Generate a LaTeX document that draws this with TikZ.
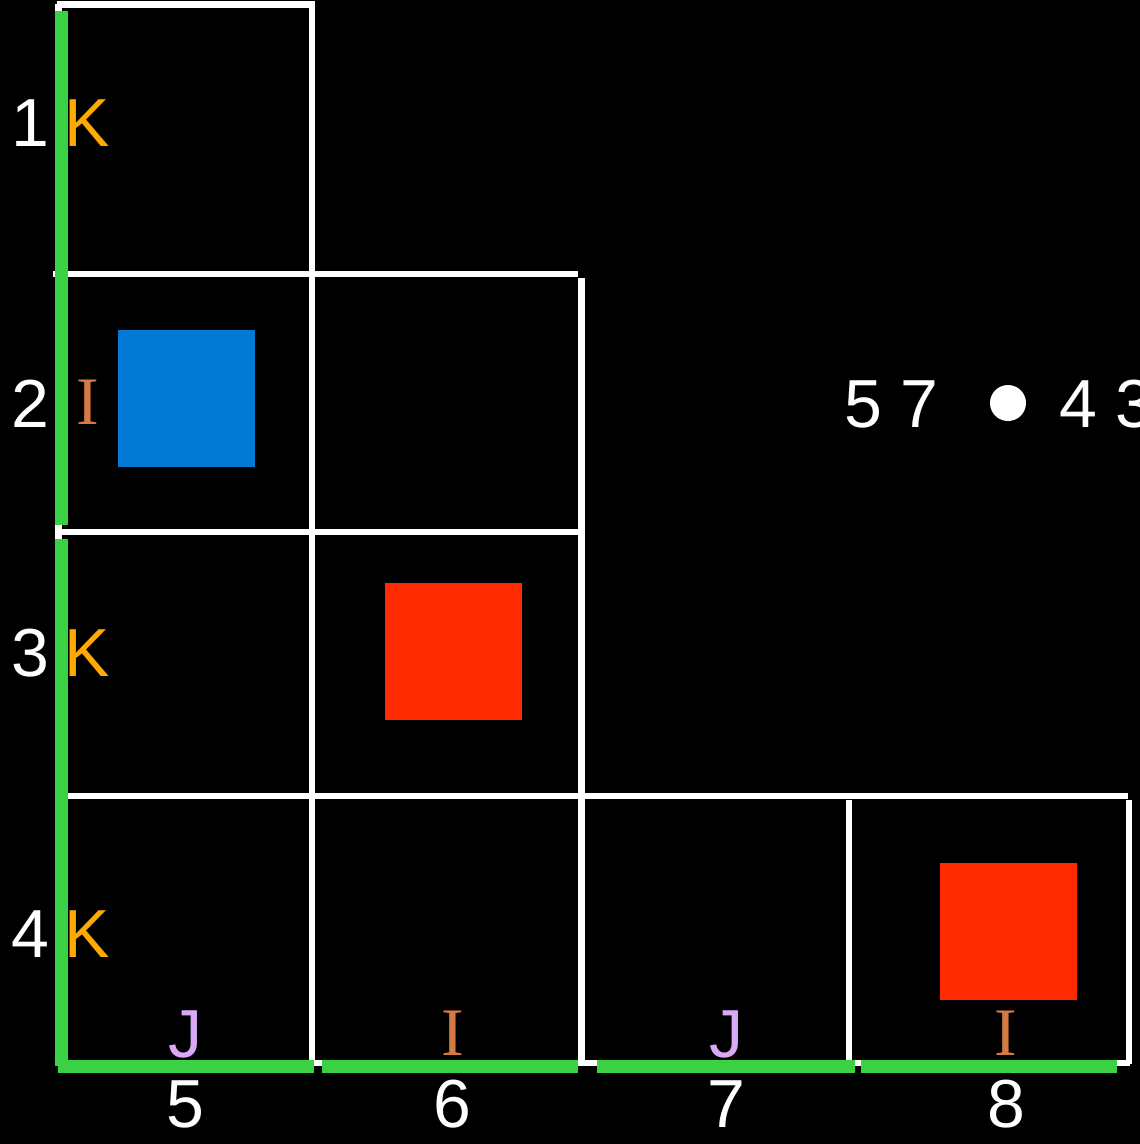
\documentclass[tikz,border=0pt]{standalone}
\usepackage{fontspec}
\setmainfont{Liberation Sans}
\newfontfamily\serifI{Liberation Serif}
\definecolor{gridgreen}{RGB}{58,209,68}
\definecolor{kor}{RGB}{255,170,0}
\definecolor{ibrown}{RGB}{212,122,66}
\definecolor{jlav}{RGB}{216,170,245}
\definecolor{sqblue}{RGB}{0,122,212}
\definecolor{sqred}{RGB}{255,42,0}
\begin{document}
\begin{tikzpicture}[x=1pt,y=-1pt,
  wline/.style={draw=white,line width=6.5pt},
  gline/.style={draw=gridgreen,line width=13pt},
  txt/.style={font=\fontsize{68}{80}\selectfont,inner sep=0pt},
  numlbl/.style={txt,text=white},
  klbl/.style={txt,text=kor},
  ilbl/.style={txt,text=ibrown,font=\serifI\fontsize{68}{80}\selectfont},
  jlbl/.style={txt,text=jlav},
  sq/.style={rectangle,inner sep=0pt,minimum width=137pt,minimum height=137pt,draw=none}]
\useasboundingbox (0,0) rectangle (1140,1144);
\fill[black] (0,0) rectangle (1140,1144);
% white grid
\coordinate (t1) at (57,4.5);   \coordinate (t2) at (315,4.5);
\coordinate (v1a) at (312,1.5); \coordinate (v1b) at (312,1063);
\coordinate (h2a) at (53,274);  \coordinate (h2b) at (578,274);
\coordinate (v2a) at (581.5,278); \coordinate (v2b) at (581.5,1064);
\coordinate (h3a) at (55,532);  \coordinate (h3b) at (584,532);
\coordinate (h4a) at (60,796);  \coordinate (h4b) at (1128,796);
\coordinate (v3a) at (849,800); \coordinate (v3b) at (849,1063);
\coordinate (v4a) at (1129,800); \coordinate (v4b) at (1129,1064);
\coordinate (h5a) at (58,1063); \coordinate (h5b) at (1130,1063);
\coordinate (v0a) at (58.5,4); \coordinate (v0b) at (58.5,1063);
\draw[wline] (t1) -- (t2);
\draw[wline] (v0a) -- (v0b);
\draw[wline] (v1a) -- (v1b);
\draw[wline] (h2a) -- (h2b);
\draw[wline] (v2a) -- (v2b);
\draw[wline] (h3a) -- (h3b);
\draw[wline] (h4a) -- (h4b);
\draw[wline] (v3a) -- (v3b);
\draw[wline] (v4a) -- (v4b);
\draw[wline] (h5a) -- (h5b);
% green edges
\coordinate (g1a) at (61.5,11);  \coordinate (g1b) at (61.5,525);
\coordinate (g2a) at (61.5,539); \coordinate (g2b) at (61.5,1066);
\coordinate (b1a) at (58,1066);  \coordinate (b1b) at (314,1066);
\coordinate (b2a) at (322,1066); \coordinate (b2b) at (578,1066);
\coordinate (b3a) at (597,1066); \coordinate (b3b) at (855,1066);
\coordinate (b4a) at (861,1066); \coordinate (b4b) at (1117,1066);
\draw[gline] (g1a) -- (g1b);
\draw[gline] (g2a) -- (g2b);
\draw[gline] (b1a) -- (b1b);
\draw[gline] (b2a) -- (b2b);
\draw[gline] (b3a) -- (b3b);
\draw[gline] (b4a) -- (b4b);
% squares
\node[sq,fill=sqblue] (blue) at (186.5,398.5) {};
\node[sq,fill=sqred] (red1) at (453.5,651.5) {};
\node[sq,fill=sqred] (red2) at (1008.5,931.5) {};
% row labels
\node[numlbl,anchor=base east] (r1) at (50,146) {1};
\node[klbl,anchor=base west] (k1) at (64,146) {K};
\node[numlbl,anchor=base east] (r2) at (50,427) {2};
\node[ilbl,anchor=base west] (i2) at (76,424) {I};
\node[numlbl,anchor=base east] (r3) at (50,676) {3};
\node[klbl,anchor=base west] (k3) at (64,676) {K};
\node[numlbl,anchor=base east] (r4) at (50,957) {4};
\node[klbl,anchor=base west] (k4) at (64,957) {K};
% column labels
\node[jlbl,anchor=base] (j5) at (185,1057) {J};
\node[ilbl,anchor=base] (i6) at (453,1055) {I};
\node[jlbl,anchor=base] (j7) at (726,1057) {J};
\node[ilbl,anchor=base] (i8) at (1006,1055) {I};
\node[numlbl,anchor=base] (c5) at (185,1127) {5};
\node[numlbl,anchor=base] (c6) at (452,1127) {6};
\node[numlbl,anchor=base] (c7) at (726,1127) {7};
\node[numlbl,anchor=base] (c8) at (1006,1127) {8};
% score
\node[numlbl,anchor=base west] (s1) at (844,427) {5 7};
\node[circle,fill=white,inner sep=0pt,minimum size=36pt] (dot) at (1008,403) {};
\node[numlbl,anchor=base west] (s2) at (1059,427) {4 3};
\end{tikzpicture}
\end{document}
